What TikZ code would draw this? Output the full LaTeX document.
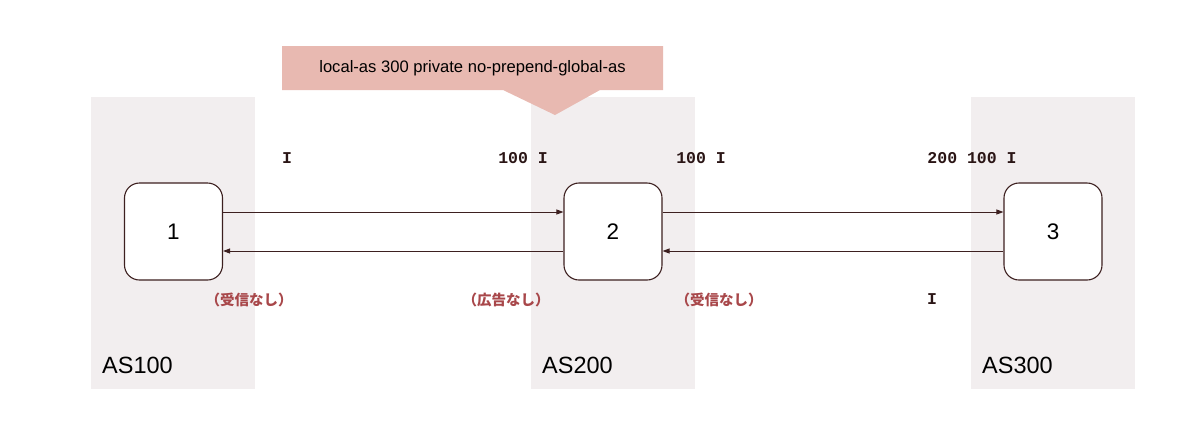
\documentclass[tikz,border=0pt]{standalone}
\usepackage{fontspec}
\setmainfont{Liberation Sans}
\setmonofont{Liberation Mono}
\newfontfamily\cjk{Noto Sans CJK JP}
\usetikzlibrary{arrows.meta}
\definecolor{asfill}{HTML}{F2EEEF}
\definecolor{callfill}{HTML}{E8B9B1}
\definecolor{redtxt}{HTML}{A8474A}
\definecolor{edge}{HTML}{3D2020}
\definecolor{monotxt}{HTML}{2A1515}
\tikzset{
  asbox/.style={fill=asfill, draw=none, minimum width=164pt, minimum height=292pt, inner sep=0pt},
  aslabel/.style={anchor=base west, inner sep=0pt, font=\fontsize{23.5}{26}\selectfont},
  router/.style={draw=edge, line width=1.1pt, fill=white, rounded corners=15pt, minimum width=98pt, minimum height=97pt, inner sep=0pt, font=\fontsize{22.5}{26}\selectfont},
  arr/.style={draw=edge, line width=0.9pt, -{Triangle[length=7pt,width=5pt]}},
  pathlbl/.style={text=monotxt, inner sep=0pt, font=\ttfamily\bfseries\fontsize{16.5}{18}\selectfont},
  notelbl/.style={text=redtxt, inner sep=0pt, font=\cjk\bfseries\fontsize{14.5}{16}\selectfont},
}
\begin{document}
\begin{tikzpicture}[x=1pt,y=-1pt]
\useasboundingbox (0,0) rectangle (1200,440);
% AS areas
\node[asbox] (as100) at (173,243) {};
\node[asbox] (as200) at (613,243) {};
\node[asbox] (as300) at (1053,243) {};
\node[aslabel] (l100) at (102,373) {AS100};
\node[aslabel] (l200) at (542,373) {AS200};
\node[aslabel] (l300) at (982,373) {AS300};
% callout
\fill[callfill] (282,46) -- (663,46) -- (663,90) -- (600,90) -- (555,115) -- (503,90) -- (282,90) -- cycle;
\node[inner sep=0pt, font=\fontsize{16.6}{20}\selectfont] (call) at (472.5,68) {local-as 300 private no-prepend-global-as};
% routers
\node[router] (n1) at (173.5,231.5) {1};
\node[router] (n2) at (613,231.5) {2};
\node[router] (n3) at (1053,231.5) {3};
% arrows
\draw[arr] ([yshift=19.5pt]n1.east) -- ([yshift=19.5pt]n2.west);
\draw[arr] ([yshift=19.5pt]n2.east) -- ([yshift=19.5pt]n3.west);
\draw[arr] ([yshift=-19.5pt]n2.west) -- ([yshift=-19.5pt]n1.east);
\draw[arr] ([yshift=-19.5pt]n3.west) -- ([yshift=-19.5pt]n2.east);
% path labels
\node[pathlbl] (p1) at (287,158) {I};
\node[pathlbl] (p2) at (523,158) {100 I};
\node[pathlbl] (p3) at (701,158) {100 I};
\node[pathlbl] (p4) at (972,158) {200 100 I};
\node[pathlbl] (p5) at (932,299) {I};
% notes
\node[notelbl] (r1) at (249,300) {（受信なし）};
\node[notelbl] (r2) at (506,300) {（広告なし）};
\node[notelbl] (r3) at (719,300) {（受信なし）};
\end{tikzpicture}
\end{document}
